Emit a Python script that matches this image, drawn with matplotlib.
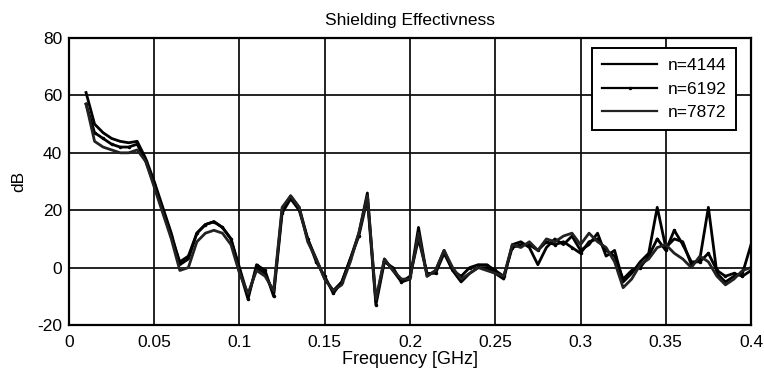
import matplotlib
matplotlib.use("Agg")
import matplotlib.pyplot as plt


# frequency points [GHz]
freq = [0.010, 0.015, 0.020, 0.025, 0.030, 0.035, 0.040, 0.045, 0.050, 0.055,
        0.060, 0.065, 0.070, 0.075, 0.080, 0.085, 0.090, 0.095, 0.100, 0.105,
        0.110, 0.115, 0.120, 0.125, 0.130, 0.135, 0.140, 0.145, 0.150, 0.155,
        0.160, 0.165, 0.170, 0.175, 0.180, 0.185, 0.190, 0.195, 0.200, 0.205,
        0.210, 0.215, 0.220, 0.225, 0.230, 0.235, 0.240, 0.245, 0.250, 0.255,
        0.260, 0.265, 0.270, 0.275, 0.280, 0.285, 0.290, 0.295, 0.300, 0.305,
        0.310, 0.315, 0.320, 0.325, 0.330, 0.335, 0.340, 0.345, 0.350, 0.355,
        0.360, 0.365, 0.370, 0.375, 0.380, 0.385, 0.390, 0.395, 0.400]

# shielding effectiveness [dB]
se_4144 = [61, 50, 47, 45, 44, 43.5, 44, 38, 30, 21,
           12, 1, 3, 12, 15, 16, 14, 10, 0, -10,
           0, -2, -9, 20, 25, 21, 10, 3, -4, -8,
           -5, 3, 12, 26, -12, 3, -1, -5, -4, 14,
           -3, -1, 6, -1, -5, -2, 0, 0, -2, -4,
           8, 9, 7, 1, 7, 10, 8, 11, 6, 8,
           12, 4, 6, -5, -2, 2, 5, 21, 7, 10,
           9, 1, 3, 21, -2, -5, -3, -2, 8]
se_6192 = [57, 47, 45, 43, 42, 42, 43, 37, 29, 20,
           11, 2, 4, 12, 15, 16, 14, 10, -1, -11,
           1, -1, -10, 19, 24, 20, 10, 2, -3, -9,
           -5, 3, 11, 24, -13, 2, 0, -5, -3, 10,
           -2, -2, 5, -1, -3, 0, 1, 1, -1, -3,
           7, 8, 8, 6, 9, 8, 9, 7, 5, 9,
           10, 6, 4, -4, -1, 0, 4, 10, 6, 13,
           8, 2, 2, 5, -1, -3, -2, -3, -1]
se_7872 = [57, 44, 42, 41, 40, 40, 41, 37, 28, 19,
           10, -1, 0, 9, 12, 13, 12, 8, -2, -9,
           -1, -3, -8, 21, 25, 21, 9, 3, -4, -8,
           -6, 2, 12, 25, -11, 3, -1, -4, -4, 12,
           -3, -1, 6, 0, -4, -2, 0, -1, -2, -3,
           8, 7, 9, 6, 10, 9, 11, 12, 8, 12,
           9, 7, 2, -7, -4, 1, 3, 7, 8, 5,
           3, 0, 4, 2, -3, -6, -4, -1, 0]

labels = ["n=4144", "n=6192", "n=7872"]
xticks = [0, 0.05, 0.1, 0.15, 0.2, 0.25, 0.3, 0.35, 0.4]
xtick_labels = ["0", "0.05", "0.1", "0.15", "0.2", "0.25", "0.3", "0.35", "0.4"]
yticks = [-20, 0, 20, 40, 60, 80]


def main():
  plt.rcParams["font.family"] = ["Liberation Sans", "DejaVu Sans"]
  plt.rcParams["axes.unicode_minus"] = False
  fig = plt.figure(figsize=(7.64, 3.74), dpi=100)
  ax = fig.add_axes([0.0903, 0.131, 0.8927, 0.7674])

  ax.plot(freq, se_4144, color="black", lw=2, label=labels[0])
  ax.plot(freq, se_6192, color="black", lw=2, marker=".", markersize=3,
          label=labels[1])
  ax.plot(freq, se_7872, color="#222222", lw=2, label=labels[2])

  ax.set_xlim(0, 0.4)
  ax.set_ylim(-20, 80)
  ax.set_xticks(xticks, xtick_labels)
  ax.set_yticks(yticks)
  ax.tick_params(direction="in", length=0, labelsize=12.5)
  ax.tick_params(axis="x", pad=7)
  ax.tick_params(axis="y", pad=5)
  ax.grid(True, color="#111111", lw=1.3)
  for sp in ax.spines.values():
    sp.set_linewidth(1.6)

  ax.set_title("Shielding Effectivness", fontsize=12.5, pad=9)
  ax.set_xlabel("Frequency [GHz]", fontsize=13, labelpad=1)
  ax.set_ylabel("dB", fontsize=12.5, labelpad=8)

  leg = ax.legend(loc="upper right", bbox_to_anchor=(0.978, 0.965),
                  fontsize=12.5, handlelength=3.2, handletextpad=0.6,
                  fancybox=False, framealpha=1, edgecolor="black",
                  borderaxespad=0, labelspacing=0.5, borderpad=0.55)
  leg.get_frame().set_linewidth(1.4)
  for line in leg.get_lines():
    line.set_linewidth(1.6)

  fig.savefig("out.png", dpi=100)


if __name__ == "__main__":
  main()
